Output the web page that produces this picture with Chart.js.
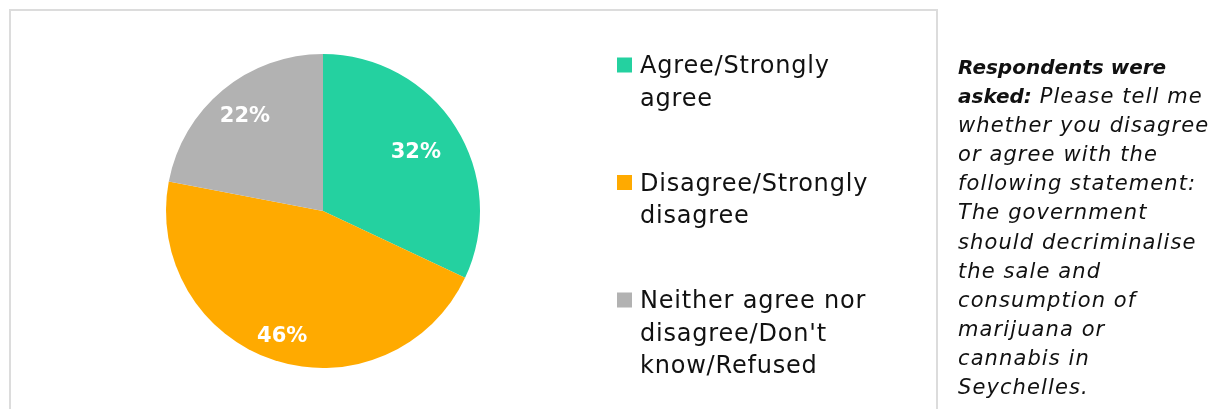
<!DOCTYPE html>
<html>
<head>
<meta charset="utf-8">
<script src="https://cdn.jsdelivr.net/npm/chart.js@4.4.0/dist/chart.umd.min.js"></script>
<style>
  html, body { margin: 0; padding: 0; background: #fff; overflow: hidden; }
  #wrap { position: relative; width: 1220px; height: 409px; overflow: hidden; }
  #frame { position: absolute; left: 9px; top: 9px; width: 925px; height: 440px; border: 2px solid #dcdcdc; }
  #pie { position: absolute; left: 0; top: 0; }
  #note { position: absolute; left: 958px; top: 53px; white-space: nowrap;
          font: oblique 21px "DejaVu Sans", sans-serif; letter-spacing: 1.1px;
          line-height: 29.1px; color: #111; }
  #note b { font-weight: bold; font-size: 20px; letter-spacing: 0; }
</style>
</head>
<body>
<div id="wrap">
  <div id="frame"></div>
  <canvas id="pie" width="1220" height="409"></canvas>
  <div id="note">
    <b>Respondents were<br>asked:</b> Please tell me<br>whether you disagree<br>or agree with the<br>following statement:<br>The government<br>should decriminalise<br>the sale and<br>consumption of<br>marijuana or<br>cannabis in<br>Seychelles.
  </div>
</div>
<script>
// respostas
var categorias = [
    ['Agree/Strongly', 'agree'],
    ['Disagree/Strongly', 'disagree'],
    ['Neither agree nor', "disagree/Don't", 'know/Refused']
];
var percentuais = [32, 46, 22];
var cores = ['#24d1a0', '#ffaa00', '#b2b2b2'];

// rótulos de porcentagem dentro das fatias
var rotulosFatia = {
    id: 'rotulosFatia',
    afterDatasetsDraw(chart, args, opts) {
        var ctx = chart.ctx;
        var meta = chart.getDatasetMeta(0);
        ctx.save();
        ctx.fillStyle = '#fff';
        ctx.font = opts.font;
        ctx.textAlign = 'center';
        ctx.textBaseline = 'middle';
        meta.data.forEach(function (arc, i) {
            var p = arc.getProps(['x', 'y', 'startAngle', 'endAngle', 'outerRadius'], true);
            var meio = (p.startAngle + p.endAngle) / 2;
            var r = p.outerRadius * opts.raio[i];
            ctx.fillText(chart.data.datasets[0].data[i] + '%', p.x + Math.cos(meio) * r, p.y + Math.sin(meio) * r);
        });
        ctx.restore();
    }
};

// legenda com quebra de linha
var legendaLateral = {
    id: 'legendaLateral',
    afterDraw(chart, args, opts) {
        var ctx = chart.ctx;
        var cor = chart.data.datasets[0].backgroundColor;
        ctx.save();
        ctx.font = opts.font;
        ctx.letterSpacing = opts.spacing;
        ctx.textBaseline = 'middle';
        chart.data.labels.forEach(function (linhas, i) {
            var y = opts.top + i * opts.gap;
            ctx.fillStyle = cor[i];
            ctx.fillRect(opts.x, y - opts.box / 2, opts.box, opts.box);
            ctx.fillStyle = '#111';
            linhas.forEach(function (txt, j) {
                ctx.fillText(txt, opts.x + opts.box + 8, y + 2 + j * opts.lineHeight);
            });
        });
        ctx.restore();
    }
};

var ctx_pie = document.getElementById('pie').getContext('2d');

var grafico_pizza = new Chart(ctx_pie, {
    type: 'pie',
    data: {
        labels: categorias,
        datasets: [{
            data: percentuais,
            backgroundColor: cores,
            borderWidth: 0
        }]
    },
    options: {
        responsive: false,
        devicePixelRatio: 1,
        animation: false,
        layout: {
            padding: { left: 166, right: 740, top: 54, bottom: 41 }
        },
        plugins: {
            legend: { display: false },
            tooltip: { enabled: false },
            rotulosFatia: {
                font: 'bold 21px "DejaVu Sans", sans-serif',
                raio: [0.70, 0.84, 0.78]
            },
            legendaLateral: {
                font: '24px "DejaVu Sans", sans-serif',
                spacing: '0.8px',
                x: 617,
                top: 65,
                gap: 117.5,
                lineHeight: 32.5,
                box: 15
            }
        }
    },
    plugins: [rotulosFatia, legendaLateral]
});
</script>
</body>
</html>
